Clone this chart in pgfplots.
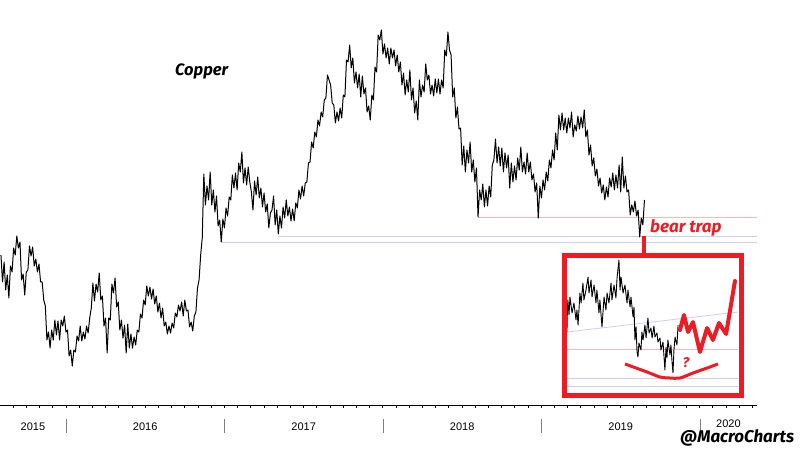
\documentclass[border=0pt]{standalone}
\usepackage{pgfplots}
\pgfplotsset{compat=1.18}
\usepackage{fontspec}
\setmainfont{Liberation Sans}
\newfontfamily\hand{Fira Sans}
\definecolor{trapred}{RGB}{237,28,36}
\definecolor{lav}{RGB}{205,205,238}
\definecolor{pinkl}{RGB}{245,185,185}
\begin{document}
\begin{tikzpicture}
\begin{axis}[at={(0pt,0pt)}, anchor=south west, scale only axis,
  width=757pt, height=405pt,
  xmin=2015.584, xmax=2020.360, ymin=1.80, ymax=3.42,
  axis x line*=bottom, axis y line=none,
  x axis line style={black, line width=0.8pt},
  xtick={2015.6667,2015.75,...,2020.34}, xticklabels={},
  xticklabel style={opacity=0},
  major tick length=3pt, tick align=outside,
  tick style={black, line width=0.8pt},
  clip=false]
% reference lines
\addplot[pinkl, line width=0.8pt] coordinates {(2018.600,2.552) (2020.360,2.552)};
\addplot[lav, line width=0.8pt] coordinates {(2017.338,2.476) (2020.360,2.476)};
\addplot[lav, line width=0.8pt] coordinates {(2016.985,2.452) (2020.360,2.452)};
% copper price
\addplot[black, line width=1.0pt, line join=round] coordinates {
(2015.59,2.400)(2015.60,2.292)(2015.61,2.372)(2015.62,2.260)(2015.63,2.320)(2015.64,2.228)(2015.65,2.356)(2015.66,2.332)(2015.67,2.428)(2015.68,2.400)
(2015.69,2.476)(2015.70,2.428)(2015.71,2.452)(2015.72,2.300)(2015.73,2.324)(2015.74,2.240)(2015.75,2.332)(2015.76,2.340)(2015.77,2.436)(2015.78,2.396)
(2015.79,2.432)(2015.80,2.356)(2015.81,2.384)(2015.82,2.332)(2015.83,2.364)(2015.84,2.292)(2015.85,2.292)(2015.86,2.220)(2015.87,2.196)(2015.88,2.060)
(2015.89,2.092)(2015.90,2.028)(2015.91,2.100)(2015.92,2.060)(2015.93,2.140)(2015.94,2.080)(2015.95,2.136)(2015.96,2.060)(2015.97,2.140)(2015.98,2.116)
(2015.99,2.156)(2016.00,2.092)(2016.01,2.100)(2016.02,1.996)(2016.03,2.020)(2016.04,1.956)(2016.05,2.020)(2016.06,2.012)(2016.07,2.076)(2016.08,2.056)
(2016.09,2.116)(2016.10,2.056)(2016.11,2.092)(2016.12,2.064)(2016.13,2.116)(2016.14,2.088)(2016.15,2.148)(2016.16,2.188)(2016.17,2.288)(2016.18,2.216)
(2016.19,2.284)(2016.20,2.252)(2016.21,2.328)(2016.22,2.220)(2016.23,2.236)(2016.24,2.116)(2016.25,2.148)(2016.26,2.008)(2016.27,2.148)(2016.28,2.140)
(2016.29,2.284)(2016.30,2.248)(2016.31,2.308)(2016.32,2.192)(2016.33,2.212)(2016.34,2.100)(2016.35,2.140)(2016.36,2.068)(2016.37,2.120)(2016.38,2.008)
(2016.39,2.124)(2016.40,2.028)(2016.41,2.084)(2016.42,2.028)(2016.43,2.072)(2016.44,2.040)(2016.45,2.100)(2016.46,2.092)(2016.47,2.164)(2016.48,2.148)
(2016.49,2.220)(2016.50,2.200)(2016.51,2.276)(2016.52,2.236)(2016.53,2.272)(2016.54,2.224)(2016.55,2.264)(2016.56,2.204)(2016.57,2.236)(2016.58,2.172)
(2016.59,2.208)(2016.60,2.148)(2016.61,2.188)(2016.62,2.116)(2016.63,2.132)(2016.64,2.084)(2016.65,2.116)(2016.66,2.088)(2016.67,2.128)(2016.68,2.108)
(2016.69,2.168)(2016.70,2.152)(2016.71,2.200)(2016.72,2.176)(2016.73,2.212)(2016.74,2.156)(2016.75,2.220)(2016.76,2.176)(2016.77,2.180)(2016.78,2.112)
(2016.79,2.132)(2016.80,2.096)(2016.81,2.156)(2016.82,2.172)(2016.83,2.268)(2016.84,2.300)(2016.85,2.400)(2016.86,2.468)(2016.87,2.724)(2016.88,2.600)
(2016.89,2.676)(2016.90,2.620)(2016.91,2.732)(2016.92,2.600)(2016.93,2.660)(2016.94,2.572)(2016.95,2.636)(2016.96,2.516)(2016.97,2.540)(2016.98,2.452)
(2016.99,2.544)(2017.00,2.508)(2017.01,2.588)(2017.02,2.556)(2017.03,2.632)(2017.04,2.620)(2017.05,2.720)(2017.06,2.668)(2017.07,2.728)(2017.08,2.660)
(2017.09,2.768)(2017.10,2.732)(2017.11,2.812)(2017.12,2.688)(2017.13,2.748)(2017.14,2.680)(2017.15,2.752)(2017.16,2.692)(2017.17,2.652)(2017.18,2.580)
(2017.19,2.696)(2017.20,2.640)(2017.21,2.712)(2017.22,2.628)(2017.23,2.668)(2017.24,2.592)(2017.25,2.648)(2017.26,2.572)(2017.27,2.604)(2017.28,2.508)
(2017.29,2.568)(2017.30,2.580)(2017.31,2.636)(2017.32,2.520)(2017.33,2.580)(2017.34,2.484)(2017.35,2.556)(2017.36,2.508)(2017.37,2.592)(2017.38,2.548)
(2017.39,2.620)(2017.40,2.556)(2017.41,2.592)(2017.42,2.536)(2017.43,2.584)(2017.44,2.536)(2017.45,2.608)(2017.46,2.588)(2017.47,2.660)(2017.48,2.624)
(2017.49,2.676)(2017.50,2.636)(2017.51,2.688)(2017.52,2.692)(2017.53,2.768)(2017.54,2.772)(2017.55,2.852)(2017.56,2.828)(2017.57,2.892)(2017.58,2.872)
(2017.59,2.940)(2017.60,2.916)(2017.61,2.972)(2017.62,2.952)(2017.63,3.020)(2017.64,3.028)(2017.65,3.120)(2017.66,3.100)(2017.67,3.080)(2017.68,3.008)
(2017.69,3.000)(2017.70,2.928)(2017.71,2.972)(2017.72,2.936)(2017.73,2.988)(2017.74,2.948)(2017.75,3.040)(2017.76,3.032)(2017.77,3.180)(2017.78,3.172)
(2017.79,3.240)(2017.80,3.148)(2017.81,3.188)(2017.82,3.088)(2017.83,3.132)(2017.84,3.068)(2017.85,3.124)(2017.86,3.032)(2017.87,3.116)(2017.88,3.044)
(2017.89,3.068)(2017.90,2.972)(2017.91,2.996)(2017.92,2.940)(2017.93,3.040)(2017.94,3.020)(2017.95,3.152)(2017.96,3.132)(2017.97,3.280)(2017.98,3.260)
(2017.99,3.300)(2018.00,3.204)(2018.01,3.244)(2018.02,3.188)(2018.03,3.228)(2018.04,3.164)(2018.05,3.228)(2018.06,3.188)(2018.07,3.220)(2018.08,3.156)
(2018.09,3.200)(2018.10,3.132)(2018.11,3.172)(2018.12,3.080)(2018.13,3.128)(2018.14,3.040)(2018.15,3.100)(2018.16,3.052)(2018.17,3.140)(2018.18,3.020)
(2018.19,3.068)(2018.20,2.968)(2018.21,3.016)(2018.22,2.940)(2018.23,3.100)(2018.24,3.032)(2018.25,3.080)(2018.26,3.052)(2018.27,3.164)(2018.28,3.100)
(2018.29,3.120)(2018.30,3.044)(2018.31,3.080)(2018.32,3.036)(2018.33,3.104)(2018.34,3.048)(2018.35,3.104)(2018.36,3.044)(2018.37,3.100)(2018.38,3.068)
(2018.39,3.220)(2018.40,3.196)(2018.41,3.292)(2018.42,3.220)(2018.43,3.200)(2018.44,3.032)(2018.45,3.068)(2018.46,2.948)(2018.47,2.992)(2018.48,2.904)
(2018.49,2.908)(2018.50,2.760)(2018.51,2.836)(2018.52,2.732)(2018.53,2.820)(2018.54,2.768)(2018.55,2.852)(2018.56,2.732)(2018.57,2.780)(2018.58,2.692)
(2018.59,2.748)(2018.60,2.552)(2018.61,2.660)(2018.62,2.620)(2018.63,2.684)(2018.64,2.592)(2018.65,2.660)(2018.66,2.596)(2018.67,2.676)(2018.68,2.632)
(2018.69,2.760)(2018.70,2.780)(2018.71,2.864)(2018.72,2.768)(2018.73,2.832)(2018.74,2.756)(2018.75,2.828)(2018.76,2.732)(2018.77,2.808)(2018.78,2.748)
(2018.79,2.800)(2018.80,2.668)(2018.81,2.768)(2018.82,2.692)(2018.83,2.756)(2018.84,2.700)(2018.85,2.788)(2018.86,2.740)(2018.87,2.832)(2018.88,2.732)
(2018.89,2.772)(2018.90,2.724)(2018.91,2.808)(2018.92,2.732)(2018.93,2.772)(2018.94,2.700)(2018.95,2.724)(2018.96,2.652)(2018.97,2.688)(2018.98,2.548)
(2018.99,2.676)(2019.00,2.628)(2019.01,2.700)(2019.02,2.660)(2019.03,2.732)(2019.04,2.696)(2019.05,2.780)(2019.06,2.748)(2019.07,2.820)(2019.08,2.780)
(2019.09,2.888)(2019.10,2.820)(2019.11,2.960)(2019.12,2.900)(2019.13,2.968)(2019.14,2.900)(2019.15,2.948)(2019.16,2.888)(2019.17,2.948)(2019.18,2.908)
(2019.19,2.972)(2019.20,2.872)(2019.21,2.920)(2019.22,2.896)(2019.23,2.956)(2019.24,2.904)(2019.25,2.952)(2019.26,2.908)(2019.27,2.980)(2019.28,2.872)
(2019.29,2.900)(2019.30,2.800)(2019.31,2.840)(2019.32,2.756)(2019.33,2.788)(2019.34,2.716)(2019.35,2.744)(2019.36,2.676)(2019.37,2.708)(2019.38,2.648)
(2019.39,2.680)(2019.40,2.620)(2019.41,2.672)(2019.42,2.632)(2019.43,2.708)(2019.44,2.672)(2019.45,2.728)(2019.46,2.660)(2019.47,2.720)(2019.48,2.668)
(2019.49,2.760)(2019.50,2.652)(2019.51,2.792)(2019.52,2.668)(2019.53,2.716)(2019.54,2.652)(2019.55,2.660)(2019.56,2.560)(2019.57,2.600)(2019.58,2.572)
(2019.59,2.616)(2019.60,2.556)(2019.61,2.580)(2019.62,2.472)(2019.63,2.548)(2019.64,2.520)(2019.65,2.620)
};
% inset guide lines
\addplot[lav, line width=0.8pt] coordinates {(2019.161,2.092) (2020.240,2.172)};
\addplot[pinkl, line width=0.8pt] coordinates {(2019.161,2.024) (2020.240,2.024)};
\addplot[lav, line width=0.8pt] coordinates {(2019.161,1.908) (2020.240,1.908)};
\addplot[lav, line width=0.8pt] coordinates {(2019.161,1.876) (2020.240,1.876)};
% inset price detail
\addplot[black, line width=0.9pt, line join=round] coordinates {
(2019.161,2.092)(2019.164,2.188)(2019.167,2.220)(2019.174,2.160)(2019.180,2.232)(2019.193,2.168)(2019.205,2.208)(2019.218,2.140)(2019.224,2.180)(2019.231,2.120)
(2019.243,2.248)(2019.250,2.208)(2019.262,2.288)(2019.268,2.220)(2019.281,2.260)(2019.294,2.312)(2019.300,2.248)(2019.313,2.300)(2019.319,2.232)(2019.332,2.280)
(2019.344,2.208)(2019.350,2.260)(2019.363,2.168)(2019.369,2.220)(2019.382,2.112)(2019.395,2.232)(2019.407,2.180)(2019.414,2.248)(2019.426,2.208)(2019.439,2.288)
(2019.445,2.220)(2019.458,2.280)(2019.470,2.228)(2019.477,2.308)(2019.489,2.380)(2019.496,2.260)(2019.502,2.312)(2019.515,2.248)(2019.527,2.280)(2019.540,2.208)
(2019.546,2.260)(2019.559,2.192)(2019.565,2.232)(2019.578,2.152)(2019.584,2.192)(2019.590,2.060)(2019.597,2.112)(2019.603,2.012)(2019.609,1.992)(2019.615,2.048)
(2019.628,2.020)(2019.634,2.092)(2019.641,2.060)(2019.653,2.120)(2019.660,2.068)(2019.672,2.148)(2019.679,2.088)(2019.691,2.108)(2019.698,2.068)(2019.710,2.116)
(2019.716,2.072)(2019.729,2.088)(2019.735,2.052)(2019.748,2.068)(2019.754,2.020)(2019.767,2.052)(2019.779,1.940)(2019.786,2.032)(2019.792,1.988)(2019.798,2.060)
(2019.811,2.000)(2019.817,2.040)(2019.824,1.972)(2019.830,1.928)(2019.836,2.020)(2019.843,2.072)(2019.855,2.040)(2019.862,2.120)
};
% projected path
\addplot[trapred, line width=4pt, line join=round, line cap=round] coordinates {
(2019.874,2.100)(2019.899,2.160)(2019.925,2.092)(2019.956,2.132)(2020.000,2.012)(2020.045,2.108)(2020.082,2.060)(2020.120,2.128)(2020.165,2.084)(2020.221,2.296)
};
% smile
\addplot[trapred, line width=3pt, smooth] coordinates {
(2019.527,1.964)(2019.666,1.932)(2019.748,1.912)(2019.811,1.908)(2019.874,1.908)(2019.956,1.928)(2020.045,1.948)(2020.114,1.964)
};
% inset frame and connector
\draw[trapred, line width=5pt] (axis cs:2019.1455,2.398) rectangle (axis cs:2020.262,1.838);
\draw[trapred, line width=4pt] (axis cs:2019.647,2.476) -- (axis cs:2019.647,2.400);
% texts
\node[anchor=base west, inner sep=0pt, font=\hand\fontsize{16.5}{18}\selectfont\bfseries\itshape] at (axis cs:2016.688,3.116) {Copper};
\node[anchor=base west, inner sep=0pt, text=trapred, font=\hand\fontsize{17}{19}\selectfont\bfseries\itshape] at (axis cs:2019.685,2.488) {bear trap};
\node[inner sep=0pt, text=trapred, font=\hand\fontsize{14}{16}\selectfont\bfseries\itshape] at (axis cs:2019.912,1.968) {?};
% year labels and separators
\node[anchor=base, inner sep=0pt, font=\fontsize{11}{13}\selectfont] at ([yshift=-25pt]axis cs:2015.792,1.80) {2015};
\node[anchor=base, inner sep=0pt, font=\fontsize{11}{13}\selectfont] at ([yshift=-25pt]axis cs:2016.5,1.80) {2016};
\node[anchor=base, inner sep=0pt, font=\fontsize{11}{13}\selectfont] at ([yshift=-25pt]axis cs:2017.5,1.80) {2017};
\node[anchor=base, inner sep=0pt, font=\fontsize{11}{13}\selectfont] at ([yshift=-25pt]axis cs:2018.5,1.80) {2018};
\node[anchor=base, inner sep=0pt, font=\fontsize{11}{13}\selectfont] at ([yshift=-25pt]axis cs:2019.5,1.80) {2019};
\node[anchor=base, inner sep=0pt, font=\fontsize{11}{13}\selectfont] at ([yshift=-22pt]axis cs:2020.180,1.80) {2020};
\draw[gray, line width=0.8pt] ([yshift=-14pt]axis cs:2016,1.80) -- ([yshift=-28pt]axis cs:2016,1.80);
\draw[gray, line width=0.8pt] ([yshift=-14pt]axis cs:2017,1.80) -- ([yshift=-28pt]axis cs:2017,1.80);
\draw[gray, line width=0.8pt] ([yshift=-14pt]axis cs:2018,1.80) -- ([yshift=-28pt]axis cs:2018,1.80);
\draw[gray, line width=0.8pt] ([yshift=-14pt]axis cs:2019,1.80) -- ([yshift=-28pt]axis cs:2019,1.80);
\draw[gray, line width=0.8pt] ([yshift=-14pt]axis cs:2020,1.80) -- ([yshift=-28pt]axis cs:2020,1.80);
\node[anchor=base west, inner sep=0pt, font=\hand\fontsize{17}{19}\selectfont\bfseries\itshape] at ([yshift=-37.5pt]axis cs:2019.874,1.80) {@MacroCharts};
\end{axis}
\pgfresetboundingbox
\path (0pt,-45pt) rectangle (800pt,405pt);
\end{tikzpicture}
\end{document}
